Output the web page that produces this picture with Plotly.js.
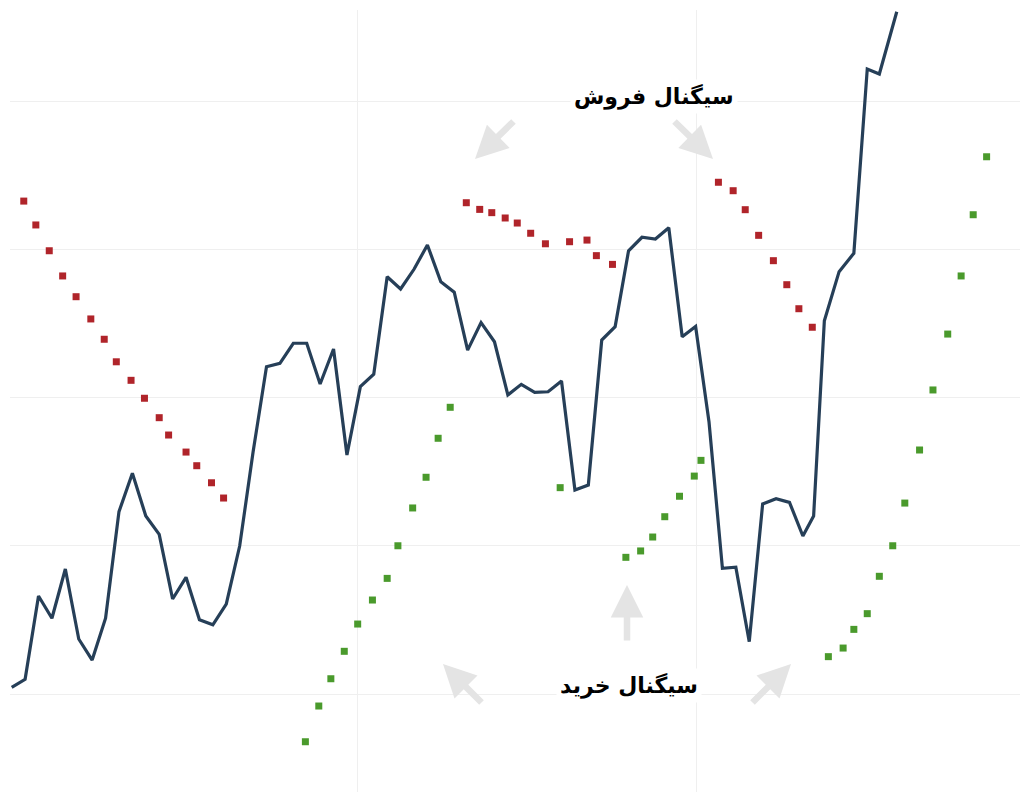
<!DOCTYPE html>
<html>
<head>
<meta charset="utf-8">
<script src="https://cdn.plot.ly/plotly-3.0.1.min.js"></script>
<style>html,body{margin:0;padding:0;background:#fff;}#chart{width:1024px;height:800px;}</style>
</head>
<body>
<div id="chart"></div>
<script>
// Price series (one value per period index)
const priceValues = [100.45,100.99,106.61,105.11,108.43,103.71,102.29,105.11,112.30,114.89,
  112.01,110.77,106.41,107.87,105.01,104.67,106.07,109.98,116.32,122.08,
  122.31,123.66,123.66,120.91,123.27,116.12,120.73,121.57,128.15,127.32,
  128.65,130.29,127.81,127.10,123.20,125.05,123.76,120.17,120.89,120.35,
  120.39,121.11,113.76,114.10,123.88,124.78,129.90,130.81,130.69,131.45,
  124.10,124.79,118.35,108.48,108.55,103.53,112.82,113.17,112.93,110.66,
  112.01,125.18,128.49,129.73,142.16,141.82,146.02];
const priceIndex = [0,1,2,3,4,5,6,7,8,9,10,11,12,13,14,15,16,17,18,19,20,21,22,23,24,25,26,27,28,29,
  30,31,32,33,34,35,36,37,38,39,40,41,42,43,44,45,46,47,48,49,50,51,52,53,54,55,56,57,58,59,
  59.8,60.6,61.7,62.8,63.8,64.7,66.0];

// Parabolic SAR above price (sell)
const sarSellX = [0.9,1.8,2.8,3.8,4.8,5.9,6.9,7.8,8.9,9.9,11.0,11.7,13.0,13.8,14.9,15.8,
  33.9,34.9,35.8,36.8,37.7,38.7,39.8,41.6,42.9,43.6,44.8,
  52.7,53.8,54.7,55.7,56.8,57.8,58.7,59.7];
const sarSellY = [133.25,131.64,129.90,128.20,126.80,125.30,123.93,122.41,121.16,119.95,118.64,117.47,116.32,115.40,114.25,113.22,
  133.14,132.69,132.47,132.11,131.77,131.08,130.37,130.51,130.62,129.57,128.98,
  134.52,133.95,132.67,130.94,129.23,127.61,125.99,124.74];

// Parabolic SAR below price (buy)
const sarBuyX = [21.9,22.9,23.8,24.8,25.8,26.9,28.0,28.8,29.9,30.9,31.8,32.7,
  40.9,45.8,46.9,47.8,48.7,49.8,50.9,51.4,
  60.9,62.0,62.8,63.8,64.7,65.7,66.6,67.7,68.7,69.8,70.8,71.7,72.7];
const sarBuyY = [96.78,99.19,101.03,102.88,104.72,106.34,107.80,110.00,112.55,114.62,117.25,119.34,
  113.92,109.22,109.65,110.59,111.96,113.34,114.70,115.76,
  102.52,103.10,104.36,105.42,107.94,110.00,112.88,116.46,120.51,124.28,128.20,132.33,136.24];

const sellLabel = 'سیگنال فروش';
const buyLabel = 'سیگنال خرید';

const traces = [
  {x: sarSellX, y: sarSellY, type: 'scatter', mode: 'markers',
   marker: {symbol: 'square', size: 7, color: '#b0242a', line: {width: 0}}, hoverinfo: 'skip'},
  {x: sarBuyX, y: sarBuyY, type: 'scatter', mode: 'markers',
   marker: {symbol: 'square', size: 7, color: '#4a9a2c', line: {width: 0}}, hoverinfo: 'skip'},
  {x: priceIndex, y: priceValues, type: 'scatter', mode: 'lines',
   line: {color: '#263f58', width: 3.2, shape: 'linear'}, hoverinfo: 'skip'}
];

// arrows: tip in paper coords, tail as pixel offset
const L = 10, T = 10, W = 1010, H = 782;
function px(x){return (x - L)/W;}
function py(y){return (T + H - y)/H;}
function arrow(tipX, tipY, tailX, tailY){
  return {x: px(tipX), y: py(tipY), xref: 'paper', yref: 'paper', text: '',
    showarrow: true, arrowhead: 2, arrowsize: 1, arrowwidth: 6.5, arrowcolor: '#e4e4e4',
    ax: tailX - tipX, ay: tailY - tipY, axref: 'pixel', ayref: 'pixel'};
}

const layout = {
  width: 1024, height: 800,
  margin: {l: L, r: 4, t: T, b: 8},
  paper_bgcolor: '#ffffff', plot_bgcolor: '#ffffff',
  showlegend: false,
  xaxis: {range: [-0.127, 75.19], tickvals: [25.75, 51.1], showticklabels: false,
          showgrid: true, gridcolor: '#efefef', gridwidth: 1, zeroline: false, showline: false, ticks: ''},
  yaxis: {range: [93.39, 146.14], tickvals: [100, 110, 120, 130, 140], showticklabels: false,
          showgrid: true, gridcolor: '#efefef', gridwidth: 1, zeroline: false, showline: false, ticks: ''},
  annotations: [
    arrow(475, 159, 515, 120),
    arrow(713, 159, 673, 120),
    arrow(627, 585, 627, 642),
    arrow(443, 664, 483, 704),
    arrow(791, 664, 751, 704),
    {x: px(654), y: py(96), xref: 'paper', yref: 'paper', xanchor: 'center', yanchor: 'middle',
     text: '<b>' + sellLabel + '</b>', showarrow: false,
     font: {family: 'DejaVu Sans', size: 22, color: '#000000'}, bgcolor: '#ffffff', borderpad: 3},
    {x: px(629), y: py(685), xref: 'paper', yref: 'paper', xanchor: 'center', yanchor: 'middle',
     text: '<b>' + buyLabel + '</b>', showarrow: false,
     font: {family: 'DejaVu Sans', size: 22, color: '#000000'}, bgcolor: '#ffffff', borderpad: 3}
  ]
};

Plotly.newPlot('chart', traces, layout, {displayModeBar: false, staticPlot: true});
</script>
</body>
</html>
